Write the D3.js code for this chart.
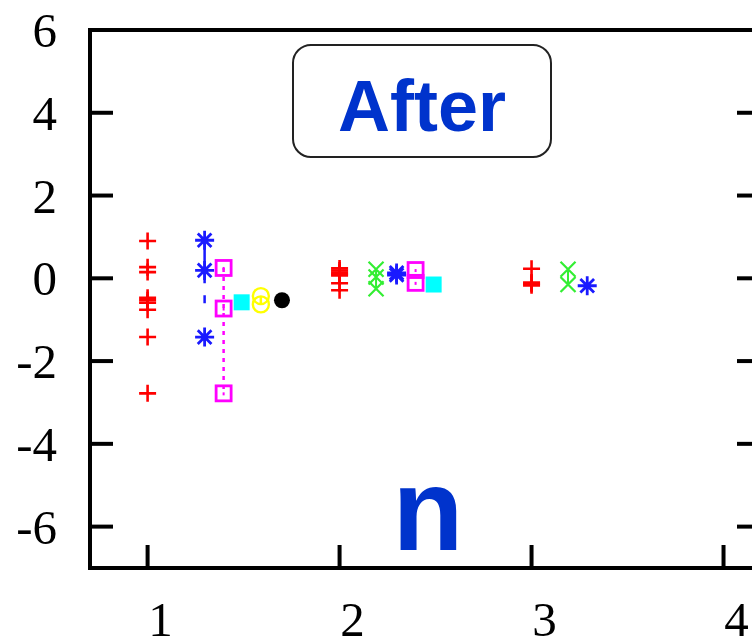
<!DOCTYPE html>
<html>
  <head>
	<meta charset="utf-8">
	<script src="https://d3js.org/d3.v7.min.js"></script>
	<style>
		body { margin: 0; background: white; }
		.tick-label { font-family: "Liberation Serif", "Times New Roman", serif; font-size: 49px; fill: #000; }
	</style>
  </head>
  <body>
	<svg id="chart" width="752" height="642"></svg>
	<script>
		// axis ticks
		var xTicks = [1, 2, 3, 4];
		var yTicks = [6, 4, 2, 0, -2, -4, -6];

		// red plus
		var plusX = [1, 1, 1, 1, 1, 1, 1, 1, 1, 2, 2, 2, 2, 2, 2, 2, 3, 3, 3, 3];
		var plusY = [0.9, 0.27, 0.15, -0.47, -0.53, -0.59, -0.76, -1.42, -2.78,
			0.24, 0.19, 0.14, 0.1, 0.07, -0.12, -0.29, 0.23, -0.1, -0.13, -0.17];

		// blue asterisk
		var starX = [1.297, 1.297, 1.297, 2.297, 2.297, 3.29];
		var starY = [0.92, 0.19, -1.42, 0.13, 0.08, -0.18];

		// green cross
		var crossX = [2.19, 2.19, 2.19, 3.19, 3.19];
		var crossY = [0.22, 0.03, -0.25, 0.22, -0.15];

		// magenta open squares
		var boxX = [1.396, 1.396, 1.396, 2.396, 2.396];
		var boxY = [0.25, -0.73, -2.78, 0.2, -0.11];

		// cyan filled squares
		var fboxX = [1.49, 2.49];
		var fboxY = [-0.58, -0.15];

		// yellow open circles
		var circX = [1.59, 1.59];
		var circY = [-0.43, -0.63];

		// black filled circle
		var dotX = [1.70];
		var dotY = [-0.53];

		var margin = {top: 30, left: 90, bottom: 74};
		var width = 670, height = 538;

		var x = d3.scaleLinear().domain([0.7, 4.19]).range([0, width]);
		var y = d3.scaleLinear().domain([-7, 6]).range([height, 0]);

		var svg = d3.select("#chart");
		var g = svg.append("g")
			.attr("transform", "translate(" + margin.left + "," + margin.top + ")");

		function pts(xs, ys) {
			return xs.map(function(v, i) { return {x: v, y: ys[i]}; });
		}

		// frame
		g.append("rect")
			.attr("width", width).attr("height", height)
			.attr("fill", "none").attr("stroke", "#000").attr("stroke-width", 4);

		// y ticks (left + right, inward)
		yTicks.forEach(function(t) {
			if (t === 6) return;
			g.append("line").attr("x1", 0).attr("x2", 23).attr("y1", y(t)).attr("y2", y(t))
				.attr("stroke", "#000").attr("stroke-width", 4);
			g.append("line").attr("x1", width - 23).attr("x2", width).attr("y1", y(t)).attr("y2", y(t))
				.attr("stroke", "#000").attr("stroke-width", 4);
		});
		g.selectAll(".ylab").data(yTicks).enter().append("text")
			.attr("class", "tick-label")
			.attr("x", -33)
			.attr("y", function(d) { return y(d) + 17; })
			.attr("text-anchor", "end")
			.text(function(d) { return d; });

		// x ticks
		xTicks.forEach(function(t) {
			g.append("line").attr("x1", x(t)).attr("x2", x(t)).attr("y1", height).attr("y2", height - 23)
				.attr("stroke", "#000").attr("stroke-width", 4);
		});
		g.selectAll(".xlab").data(xTicks).enter().append("text")
			.attr("class", "tick-label")
			.attr("x", function(d) { return x(d) + 13; })
			.attr("y", height + 68)
			.attr("text-anchor", "middle")
			.text(function(d) { return d; });

		// title box
		g.append("rect")
			.attr("x", 203).attr("y", 15).attr("width", 258).attr("height", 112)
			.attr("rx", 18).attr("ry", 18)
			.attr("fill", "white").attr("stroke", "#222").attr("stroke-width", 2);
		g.append("text")
			.attr("x", 332).attr("y", 101)
			.attr("text-anchor", "middle")
			.attr("font-family", "Liberation Sans, Arial, sans-serif")
			.attr("font-weight", "bold").attr("font-size", 72)
			.attr("fill", "#0033cc")
			.text("After");
		g.append("text")
			.attr("x", 338).attr("y", 520)
			.attr("text-anchor", "middle")
			.attr("font-family", "Liberation Sans, Arial, sans-serif")
			.attr("font-weight", "bold").attr("font-size", 116)
			.attr("fill", "#0033cc")
			.text("n");

		// connecting lines
		var blueCol = "#1a1aff", magCol = "#ff00ff", greenCol = "#33ee33", redCol = "#ff0000";
		g.append("line")
			.attr("x1", x(starX[0])).attr("x2", x(starX[2]))
			.attr("y1", y(starY[0])).attr("y2", y(starY[2]))
			.attr("stroke", blueCol).attr("stroke-width", 2.5)
			.attr("stroke-dasharray", "43,12,8,60");
		g.append("line")
			.attr("x1", x(boxX[0])).attr("x2", x(boxX[2]))
			.attr("y1", y(boxY[0])).attr("y2", y(boxY[2]))
			.attr("stroke", magCol).attr("stroke-width", 2.5)
			.attr("stroke-dasharray", "4,5");
		g.append("line")
			.attr("x1", x(crossX[0])).attr("x2", x(crossX[2]))
			.attr("y1", y(crossY[0])).attr("y2", y(crossY[2]))
			.attr("stroke", greenCol).attr("stroke-width", 2);
		g.append("line")
			.attr("x1", x(crossX[3])).attr("x2", x(crossX[4]))
			.attr("y1", y(crossY[3])).attr("y2", y(crossY[4]))
			.attr("stroke", greenCol).attr("stroke-width", 2);
		g.append("line")
			.attr("x1", x(circX[0])).attr("x2", x(circX[1]))
			.attr("y1", y(circY[0])).attr("y2", y(circY[1]))
			.attr("stroke", "#ffff00").attr("stroke-width", 2.5);

		// marker paths
		function plusPath(s) { return "M" + -s + ",0H" + s + "M0," + -s + "V" + s; }
		function crossPath(s) { return "M" + -s + "," + -s + "L" + s + "," + s + "M" + -s + "," + s + "L" + s + "," + -s; }
		function starPath(s) { var d = s * 0.72; return plusPath(s) + crossPath(d); }

		function drawMarks(data, path, col, w) {
			g.append("g").selectAll("path").data(data).enter().append("path")
				.attr("transform", function(d) { return "translate(" + x(d.x) + "," + y(d.y) + ")"; })
				.attr("d", path)
				.attr("fill", "none").attr("stroke", col).attr("stroke-width", w);
		}

		drawMarks(pts(plusX, plusY), plusPath(8.5), redCol, 2.6);
		drawMarks(pts(crossX, crossY), crossPath(7.5), greenCol, 2.2);
		drawMarks(pts(starX, starY), starPath(9.5), blueCol, 2.8);

		g.append("g").selectAll("rect").data(pts(boxX, boxY)).enter().append("rect")
			.attr("x", function(d) { return x(d.x) - 7.5; })
			.attr("y", function(d) { return y(d.y) - 7.5; })
			.attr("width", 15).attr("height", 15)
			.attr("fill", "white").attr("fill-opacity", 0)
			.attr("stroke", magCol).attr("stroke-width", 2.8);
		g.append("g").selectAll("rect").data(pts(boxX, boxY)).enter().append("rect")
			.attr("x", function(d) { return x(d.x) - 1; })
			.attr("y", function(d) { return y(d.y) - 1; })
			.attr("width", 2).attr("height", 3)
			.attr("fill", magCol);

		g.append("g").selectAll("rect").data(pts(fboxX, fboxY)).enter().append("rect")
			.attr("x", function(d) { return x(d.x) - 8; })
			.attr("y", function(d) { return y(d.y) - 8; })
			.attr("width", 16).attr("height", 16)
			.attr("fill", "#00ffff");

		g.append("g").selectAll("circle").data(pts(circX, circY)).enter().append("circle")
			.attr("cx", function(d) { return x(d.x); })
			.attr("cy", function(d) { return y(d.y); })
			.attr("r", 8)
			.attr("fill", "none").attr("stroke", "#ffff00").attr("stroke-width", 2.4);

		g.append("g").selectAll("circle").data(pts(dotX, dotY)).enter().append("circle")
			.attr("cx", function(d) { return x(d.x); })
			.attr("cy", function(d) { return y(d.y); })
			.attr("r", 8)
			.attr("fill", "#000");
	</script>
  </body>
</html>
